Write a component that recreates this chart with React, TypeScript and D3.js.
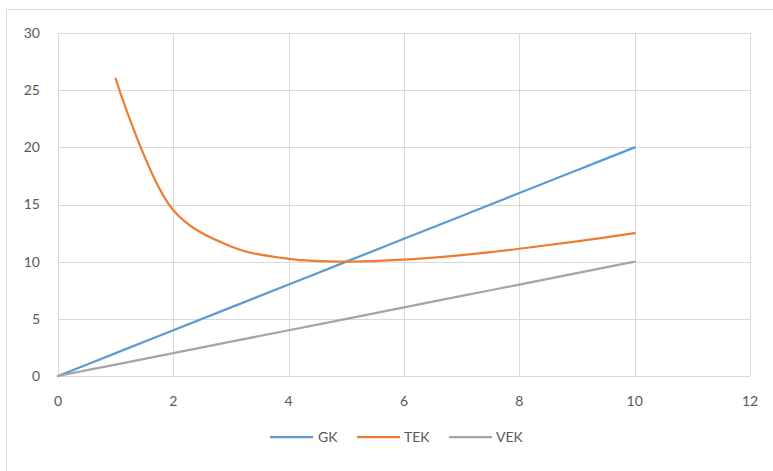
import React from "react";
import * as d3 from "d3";

// Cost curves over output quantity
const xValues = [0, 1, 2, 3, 4, 5, 6, 7, 8, 9, 10];
const gkValues = [0, 2, 4, 6, 8, 10, 12, 14, 16, 18, 20];
const vekValues = [0, 1, 2, 3, 4, 5, 6, 7, 8, 9, 10];
const tekX = [1, 2, 3, 4, 5, 6, 7, 8, 9, 10];
const tekValues = [26, 14.5, 11.33, 10.25, 10, 10.17, 10.57, 11.13, 11.78, 12.5];

const xTicks = [0, 2, 4, 6, 8, 10, 12];
const yTicks = [0, 5, 10, 15, 20, 25, 30];

const seriesNames = ["GK", "TEK", "VEK"];
const seriesColors = ["#5B9BD5", "#ED7D31", "#A5A5A5"];

const W = 773;
const H = 471;
const FONT = "Lato, 'Open Sans', sans-serif";

export default function App() {
  const x = d3.scaleLinear().domain([0, 12]).range([58, 750]);
  const y = d3.scaleLinear().domain([0, 30]).range([376, 33]);

  const line = d3
    .line<[number, number]>()
    .x((d) => x(d[0]))
    .y((d) => y(d[1]))
    .curve(d3.curveCatmullRom.alpha(0.5));

  const series: [number, number][][] = [
    xValues.map((v, i) => [v, gkValues[i]] as [number, number]),
    tekX.map((v, i) => [v, tekValues[i]] as [number, number]),
    xValues.map((v, i) => [v, vekValues[i]] as [number, number]),
  ];

  const legendItems = [
    { lineX: 270, textX: 318 },
    { lineX: 357, textX: 404 },
    { lineX: 449, textX: 496 },
  ];

  return (
    <svg
      width={W}
      height={H}
      style={{ position: "absolute", left: 0, top: 0, background: "#fff" }}
    >
      <rect x={0} y={0} width={W} height={H} fill="#fff" />
      {/* chart frame */}
      <path d={`M6.5,${H} V9.5 H${W}`} fill="none" stroke="#D9D9D9" strokeWidth={1} />

      {/* gridlines */}
      {yTicks.map((t) => (
        <line
          key={"gy" + t}
          x1={x(0)}
          x2={x(12)}
          y1={Math.round(y(t)) + 0.5}
          y2={Math.round(y(t)) + 0.5}
          stroke="#D9D9D9"
          strokeWidth={1}
        />
      ))}
      {xTicks.map((t) => (
        <line
          key={"gx" + t}
          x1={Math.round(x(t)) + 0.5}
          x2={Math.round(x(t)) + 0.5}
          y1={y(30)}
          y2={y(0)}
          stroke="#D9D9D9"
          strokeWidth={1}
        />
      ))}

      {/* axis labels */}
      {yTicks.map((t) => (
        <text
          key={"ly" + t}
          x={40}
          y={y(t)}
          dy="0.35em"
          textAnchor="end"
          fontFamily={FONT}
          fontSize={14}
          fill="#595959"
        >
          {t}
        </text>
      ))}
      {xTicks.map((t) => (
        <text
          key={"lx" + t}
          x={x(t)}
          y={401}
          dy="0.35em"
          textAnchor="middle"
          fontFamily={FONT}
          fontSize={14}
          fill="#595959"
        >
          {t}
        </text>
      ))}

      {/* series */}
      {series.map((s, i) => (
        <path
          key={seriesNames[i]}
          d={line(s) || ""}
          fill="none"
          stroke={seriesColors[i]}
          strokeWidth={2.25}
          strokeLinecap="round"
        />
      ))}

      {/* legend */}
      {legendItems.map((it, i) => (
        <g key={"lg" + i}>
          <line
            x1={it.lineX}
            x2={it.lineX + 43}
            y1={437}
            y2={437}
            stroke={seriesColors[i]}
            strokeWidth={2.25}
          />
          <text
            x={it.textX}
            y={437}
            dy="0.35em"
            fontFamily={FONT}
            fontSize={14}
            fill="#595959"
          >
            {seriesNames[i]}
          </text>
        </g>
      ))}
    </svg>
  );
}
